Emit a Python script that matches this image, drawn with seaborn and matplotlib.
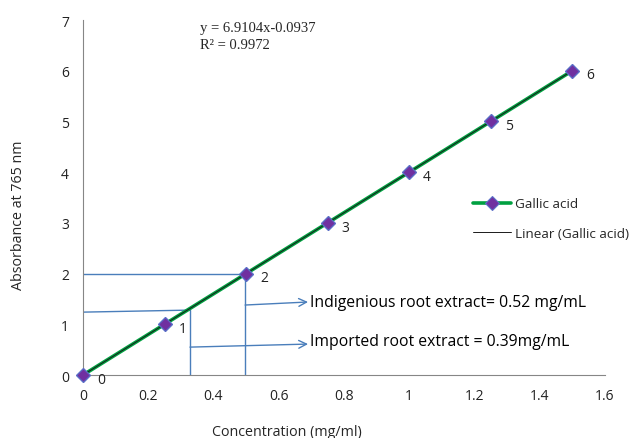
import matplotlib
matplotlib.use("Agg")
import matplotlib.pyplot as plt
import seaborn as sns
import pandas as pd
import numpy as np

conc = [0, 0.25, 0.5, 0.75, 1.0, 1.25, 1.5]
absorb = [0, 1, 2, 3, 4, 5, 6]
point_labels = ["0", "1", "2", "3", "4", "5", "6"]
equation_text = "y = 6.9104x-0.0937"
r2_text = "R² = 0.9972"
xticks = [0, 0.2, 0.4, 0.6, 0.8, 1, 1.2, 1.4, 1.6]
xticklabels = ["0", "0.2", "0.4", "0.6", "0.8", "1", "1.2", "1.4", "1.6"]
yticks = [0, 1, 2, 3, 4, 5, 6, 7]

sns.set_style("white")
plt.rcParams['font.family'] = ['Open Sans', 'DejaVu Sans']

df = pd.DataFrame({"Concentration": conc, "Absorbance": absorb})

fig = plt.figure(figsize=(6.36, 4.39), dpi=100)
ax = fig.add_axes([0.1305, 0.1435, 0.8205, 0.8085])

blue = "#4a7ebb"
# annotation guide lines
ax.plot([0, 0.5], [2, 2], color=blue, lw=1.0, zorder=1)
ax.plot([0.497, 0.497], [2, 0], color=blue, lw=1.0, zorder=1)
ax.plot([0, 0.328], [1.24, 1.28], color=blue, lw=1.0, zorder=1)
ax.plot([0.328, 0.328], [1.28, 0], color=blue, lw=1.0, zorder=1)
ax.annotate("", xy=(0.69, 1.44), xytext=(0.497, 1.38),
            arrowprops=dict(arrowstyle="->", color=blue, lw=1.0,
                            mutation_scale=14, shrinkA=0, shrinkB=0))
ax.annotate("", xy=(0.69, 0.61), xytext=(0.328, 0.55),
            arrowprops=dict(arrowstyle="->", color=blue, lw=1.0,
                            mutation_scale=14, shrinkA=0, shrinkB=0))
ax.text(0.695, 1.44, "Indigenious root extract= 0.52 mg/mL", fontsize=11.3,
        va="center", ha="left", color="black")
ax.text(0.695, 0.67, "Imported root extract = 0.39mg/mL", fontsize=11.3,
        va="center", ha="left", color="black")

mk = dict(marker="D", markersize=7, markerfacecolor="#7030a0",
          markeredgecolor="#5a70c8", markeredgewidth=0.8)
sns.lineplot(data=df, x="Concentration", y="Absorbance", ax=ax, color="#00a040",
             lw=2.6, label="Gallic acid", zorder=4, clip_on=False, **mk)
coef = np.polyfit(conc, absorb, 1)
fit_x = np.array([min(conc), max(conc)])
ax.plot(fit_x, np.polyval(coef, fit_x), color="#1a1a1a", lw=0.7,
        label="Linear (Gallic acid)", zorder=5)
sns.scatterplot(data=df, x="Concentration", y="Absorbance", ax=ax, marker="D",
                s=49, color="#7030a0", edgecolor="#5a70c8", linewidth=0.8,
                zorder=6, clip_on=False, legend=False)

for xv, yv, lab in zip(conc, absorb, point_labels):
    ax.annotate(lab, (xv, yv), xytext=(10, -3), textcoords="offset points",
                fontsize=10, va="center", ha="left", color="#222222")

ax.text(0.358, 6.85, equation_text, fontsize=10.5, family="Liberation Serif",
        va="center", ha="left")
ax.text(0.358, 6.52, r2_text, fontsize=10.5, family="Liberation Serif",
        va="center", ha="left")

ax.set_xlim(0, 1.6)
ax.set_ylim(0, 7)
ax.set_xticks(xticks)
ax.set_xticklabels(xticklabels)
ax.set_yticks(yticks)
ax.tick_params(axis="both", labelsize=10, colors="#222222", length=4, width=0.8,
               color="#868686", direction="out", pad=6)
ax.tick_params(axis="x", pad=5)
for s in ["top", "right"]:
    ax.spines[s].set_visible(False)
for s in ["left", "bottom"]:
    ax.spines[s].set_color("#868686")
    ax.spines[s].set_linewidth(0.8)
ax.set_xlabel("Concentration (mg/ml)", fontsize=10.3)
ax.set_ylabel("Absorbance at 765 nm", fontsize=10.3)
ax.xaxis.set_label_coords(0.39, -0.138)
ax.yaxis.set_label_coords(-0.11, 0.453)

leg = ax.legend(loc="upper left", bbox_to_anchor=(0.725, 0.535), frameon=False,
                fontsize=9.7, handlelength=2.8, labelspacing=1.25, handletextpad=0.3)

fig.savefig("out.png", dpi=100)
